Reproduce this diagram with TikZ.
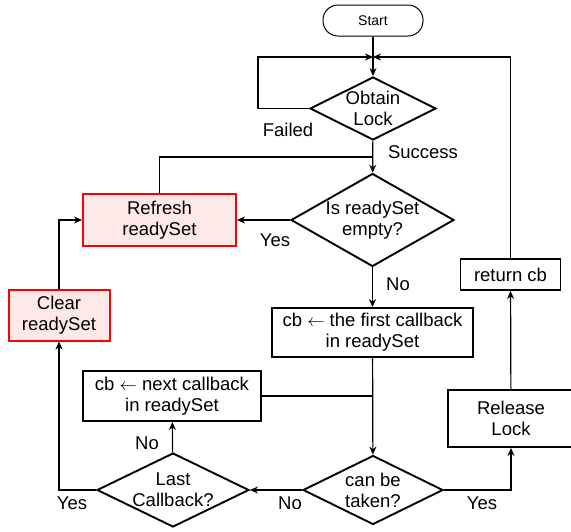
\documentclass[tikz,border=0pt]{standalone}
\usepackage{fontspec}
\setmainfont{Liberation Sans}
\usetikzlibrary{shapes.geometric, arrows.meta}

\begin{document}
\begin{tikzpicture}[x=1pt, y=-1pt, >={Stealth[length=8pt, width=7pt]},
          line width=1.2pt,
          font=\fontsize{18.5}{21}\selectfont,
          box/.style={draw, rectangle, line width=1.9pt, inner sep=0pt, align=center},
          redbox/.style={box, draw=red, fill=red!9, line width=2pt},
          decision/.style={draw, diamond, aspect=2, line width=1.9pt, inner xsep=-16pt, inner ysep=-9pt, align=center},
          terminal/.style={draw, rectangle, rounded corners=15pt, line width=1pt, font=\fontsize{14}{16}\selectfont}
        ]
        \useasboundingbox (0,0) rectangle (571,531);

        \node[terminal, minimum width=100pt, minimum height=31pt] (start) at (373,20.5) {Start};
        \node[decision, minimum width=126pt, minimum height=63pt] (lock) at (373,108.5) {Obtain\\Lock};
        \node[decision, minimum width=163pt, minimum height=93pt] (empty) at (372.5,220) {Is readySet\\empty?};
        \node[redbox, minimum width=153pt, minimum height=52pt] (refresh) at (159.5,220) {Refresh\\readySet};
        \node[redbox, minimum width=101pt, minimum height=51pt] (clear) at (59,315) {Clear\\readySet};
        \node[box, minimum width=201pt, minimum height=49pt] (first) at (372.5,332.5) {cb $\leftarrow$ the first callback\\in readySet};
        \node[box, minimum width=178pt, minimum height=50pt] (next) at (172,396) {cb $\leftarrow$ next callback\\in readySet};
        \node[decision, minimum width=140pt, minimum height=69pt] (taken) at (373,490) {can be\\taken?};
        \node[decision, minimum width=152pt, minimum height=74pt] (last) at (173,490) {Last\\Callback?};
        \node[box, minimum width=126pt, minimum height=57pt] (release) at (511,418.5) {Release\\Lock};
        \node[box, minimum width=100pt, minimum height=31pt] (ret) at (510.5,274.5) {return cb};

        \coordinate (join)   at (373,57);
        \coordinate (loopL)  at (258,57);
        \coordinate (merge1) at (373,157);
        \coordinate (merge2) at (373,396);

        % labels
        \node (failed)   at (288,130) {Failed};
        \node (success)  at (423,152) {Success};
        \node (yesE)     at (275,240) {Yes};
        \node (noE)      at (398,284) {No};
        \node (noL)      at (147,443) {No};
        \node (yesL)     at (72,503) {Yes};
        \node (noT)      at (290,503) {No};
        \node (yesT)     at (482,503) {Yes};

        % main path
        \draw[->] (start) -- (lock);
        \draw[->] (lock) -- (empty);
        \draw     (refresh) |- (merge1);
        \draw[->] (empty.west) -- (refresh.east);
        \draw[->] (empty) -- (first);
        \draw[->] (first) -- (taken);
        \draw     (next.east) -- (merge2);

        % retry loops
        \draw[->] (lock.west) -| (loopL) -- (join);
        \draw[->] (ret) |- (join);

        % callback search
        \draw[->] (taken.west) -- (last.east);
        \draw[->] (last) -- (next);
        \draw[->] (last.west) -| (clear);
        \draw[->] (clear) |- (refresh);

        % exit
        \draw[->] (taken.east) -| (release);
        \draw[->] (release) -- (ret);
      \end{tikzpicture}
\end{document}
